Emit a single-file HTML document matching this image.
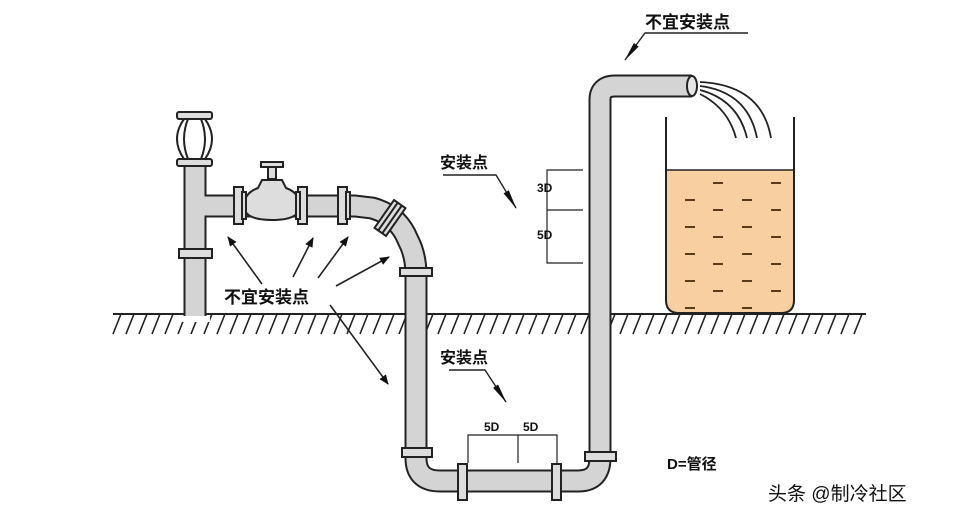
<!DOCTYPE html>
<html><head><meta charset="utf-8"><style>
html,body{margin:0;padding:0;background:#fff;}
svg{display:block;}
text{font-family:"Liberation Sans","Noto Sans CJK SC",sans-serif;font-weight:bold;fill:#111;}
</style></head><body>
<svg width="960" height="516" viewBox="0 0 960 516" xmlns="http://www.w3.org/2000/svg">
<defs>
<marker id="ar" markerWidth="10" markerHeight="8" refX="9" refY="4" orient="auto" markerUnits="userSpaceOnUse"><path d="M0,0 L10,4 L0,8 Z" fill="#111"/></marker>
<marker id="ar2" markerWidth="20" markerHeight="8" refX="19" refY="4" orient="auto" markerUnits="userSpaceOnUse"><path d="M0,1 L20,4 L0,7 Z" fill="#111"/></marker>
</defs>
<rect width="960" height="516" fill="#fff"/>
<line x1="113" y1="314" x2="866" y2="314" stroke="#222" stroke-width="2"/>
<g stroke="#222" stroke-width="1.6">
<path d="M113,334 L121,314 M126,334 L134,314 M139,334 L147,314 M152,334 L160,314 M165,334 L173,314 M178,334 L186,314 M191,334 L199,314 M204,334 L212,314 M217,334 L225,314 M230,334 L238,314 M243,334 L251,314 M256,334 L264,314 M269,334 L277,314 M282,334 L290,314 M295,334 L303,314 M308,334 L316,314 M321,334 L329,314 M334,334 L342,314 M347,334 L355,314 M360,334 L368,314 M373,334 L381,314 M386,334 L394,314 M399,334 L407,314 M412,334 L420,314 M425,334 L433,314 M438,334 L446,314 M451,334 L459,314 M464,334 L472,314 M477,334 L485,314 M490,334 L498,314 M503,334 L511,314 M516,334 L524,314 M529,334 L537,314 M542,334 L550,314 M555,334 L563,314 M568,334 L576,314 M581,334 L589,314 M594,334 L602,314 M607,334 L615,314 M620,334 L628,314 M633,334 L641,314 M646,334 L654,314 M659,334 L667,314 M672,334 L680,314 M685,334 L693,314 M698,334 L706,314 M711,334 L719,314 M724,334 L732,314 M737,334 L745,314 M750,334 L758,314 M763,334 L771,314 M776,334 L784,314 M789,334 L797,314 M802,334 L810,314 M815,334 L823,314 M828,334 L836,314 M841,334 L849,314 M854,334 L862,314"/>
</g>
<g fill="none" stroke-linejoin="round">
<path d="M195,166 V316 M195,206 H355 L372,208 Q398,215 408,240 Q416,255 416,275 V458 Q416,481 440,481 H578 Q600,481 600,458 V100 Q600,86 615,86 H692" stroke="#222" stroke-width="23"/>
<path d="M195,166 V316 M195,206 H355 L372,208 Q398,215 408,240 Q416,255 416,275 V458 Q416,481 440,481 H578 Q600,481 600,458 V100 Q600,86 615,86 H692" stroke="#d4d4d4" stroke-width="19"/>
</g>
<rect x="180" y="316" width="30" height="6" fill="#fff"/>
<ellipse cx="692" cy="86" rx="5" ry="10" fill="#e6e6e6" stroke="#222" stroke-width="2"/>
<g stroke="#222" stroke-width="2" fill="#ddd">
<rect x="177" y="112" width="35" height="7" rx="2"/>
<rect x="177" y="159" width="35" height="7" rx="2"/>
<path d="M184,119 Q170,139 184,159 M205,119 Q219,139 205,159" fill="none"/>
<path d="M188,119 Q180,139 188,159 M201,119 Q209,139 201,159" fill="none"/>
<rect x="179" y="249" width="33" height="9"/>
<rect x="261" y="162" width="22" height="5"/>
<rect x="268" y="167" width="8" height="12"/>
<path d="M262,180 H282 L286,188 Q300,193 300,206 Q300,220 272,220 Q244,220 244,206 Q244,193 258,188 Z"/>
<rect x="234" y="187" width="9" height="37"/>
<rect x="242" y="192" width="4" height="27"/>
<rect x="298" y="187" width="9" height="37"/>
<rect x="296" y="192" width="4" height="27"/>
<rect x="338" y="187" width="9" height="37"/>
<rect x="346" y="192" width="4" height="27"/>
<g transform="translate(390,218) rotate(-55)"><rect x="-17" y="-7" width="34" height="14"/><line x1="-17" y1="-2.5" x2="17" y2="-2.5"/><line x1="-17" y1="2.5" x2="17" y2="2.5"/></g>
<rect x="400" y="268" width="32" height="8"/>
<rect x="402" y="448" width="30" height="9"/>
<rect x="585" y="452" width="31" height="9"/>
<rect x="458" y="464" width="9" height="36"/>
<rect x="552" y="464" width="9" height="36"/>
</g>
<path d="M666,170 H794 V300 Q794,313 781,313 H679 Q666,313 666,300 Z" fill="#f7cfa0" stroke="#222" stroke-width="1.5"/>
<path d="M666,117 V300 Q666,313 679,313 H781 Q794,313 794,300 V117" fill="none" stroke="#222" stroke-width="2"/>
<g stroke="#5a3a1a" stroke-width="2">
<path d="M713,183h10M771,183h10M685,200h10M742,200h10M713,210h10M771,210h10M685,227h10M742,227h10M713,237h10M771,237h10M685,254h10M742,254h10M713,264h10M771,264h10M685,281h10M742,281h10M713,291h10M771,291h10M685,308h10M742,308h10"/>
</g>
<g fill="none" stroke="#222" stroke-width="1.8">
<path d="M700,82 Q762,85 771,138"/><path d="M700,86 Q748,92 757,138"/><path d="M700,90 Q738,100 747,138"/><path d="M700,94 Q728,108 736,138"/>
</g>
<text x="224" y="303" font-size="17">不宜安装点</text>
<g stroke="#222" stroke-width="1.6">
<line x1="262" y1="284" x2="228" y2="237" marker-end="url(#ar)"/>
<line x1="293" y1="277" x2="313" y2="238" marker-end="url(#ar)"/>
<line x1="318" y1="278" x2="348" y2="237" marker-end="url(#ar)"/>
<line x1="336" y1="286" x2="389" y2="257" marker-end="url(#ar)"/>
<line x1="330" y1="305" x2="388" y2="384" marker-end="url(#ar)"/>
</g>
<text x="440" y="168" font-size="16">安装点</text>
<polyline points="443,175 496,175 516,208" fill="none" stroke="#222" stroke-width="1.4" marker-end="url(#ar2)"/>
<text x="440" y="363" font-size="16">安装点</text>
<polyline points="449,370 485,370 506,402" fill="none" stroke="#222" stroke-width="1.4" marker-end="url(#ar2)"/>
<text x="645" y="28" font-size="17">不宜安装点</text>
<polyline points="748,33 645,33 625,60" fill="none" stroke="#222" stroke-width="1.4" marker-end="url(#ar2)"/>
<g stroke="#222" stroke-width="1.2" fill="none">
<path d="M583,170 H547 V263 H583 M547,210 H583"/>
<path d="M468,463 V435 H557 V463 M518,435 V463"/>
</g>
<text x="537" y="192" font-size="12">3D</text>
<text x="537" y="239" font-size="12">5D</text>
<text x="484" y="431" font-size="12">5D</text>
<text x="523" y="431" font-size="12">5D</text>
<text x="667" y="469" font-size="15">D=管径</text>
<text x="768" y="500" font-size="19" style="font-weight:normal" fill="#222">头条 @制冷社区</text>
</svg>
</body></html>
